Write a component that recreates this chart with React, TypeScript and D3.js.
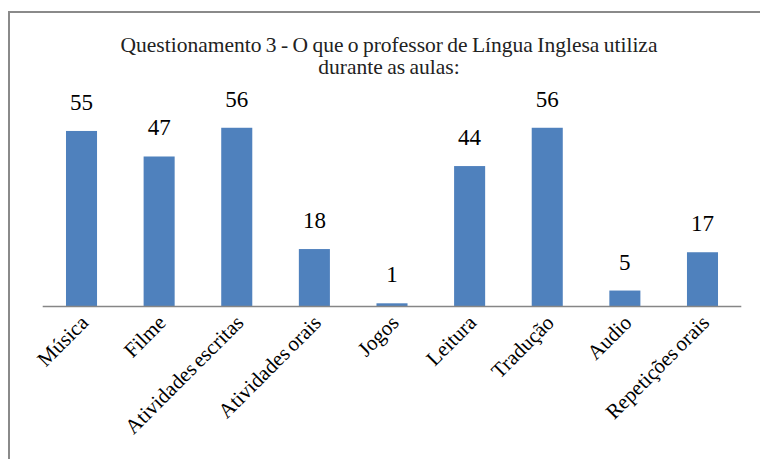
import React, { useEffect, useRef } from "react";
import * as d3 from "d3";

const categories = [
  "Música",
  "Filme",
  "Atividades escritas",
  "Atividades orais",
  "Jogos",
  "Leitura",
  "Tradução",
  "Audio",
  "Repetições orais",
];
const values = [55, 47, 56, 18, 1, 44, 56, 5, 17];
const titleLines = [
  "Questionamento 3 - O que o professor de Língua Inglesa utiliza",
  "durante as aulas:",
];

const App = () => {
  const svgRef = useRef<SVGSVGElement>(null);

  useEffect(() => {
    const width = 760;
    const height = 459;
    const svg = d3.select(svgRef.current);
    svg.selectAll("*").remove();

    const font =
      '"Liberation Serif", Tinos, "Times New Roman", Times, "DejaVu Serif", serif';

    // frame (only top and left edges visible in the crop)
    svg
      .append("rect")
      .attr("x", 9)
      .attr("y", 12)
      .attr("width", 800)
      .attr("height", 500)
      .attr("fill", "#fff")
      .attr("stroke", "#8a8a8a")
      .attr("stroke-width", 2);

    svg
      .append("g")
      .selectAll("text")
      .data(titleLines)
      .enter()
      .append("text")
      .attr("x", 389)
      .attr("y", (d, i) => 52 + i * 22)
      .attr("text-anchor", "middle")
      .style("font-family", font)
      .style("font-size", "21.5px")
      .style("word-spacing", "-1px")
      .attr("fill", "#222")
      .text((d) => d);

    const x = d3
      .scaleBand()
      .domain(categories)
      .range([42.7, 741.3])
      .paddingInner(0.6)
      .paddingOuter(0.3);

    const y = d3.scaleLinear().domain([0, 60]).range([306.5, 115]);

    svg
      .append("g")
      .selectAll("rect")
      .data(values)
      .enter()
      .append("rect")
      .attr("x", (d, i) => x(categories[i]))
      .attr("y", (d) => y(d))
      .attr("width", x.bandwidth())
      .attr("height", (d) => y(0) - y(d))
      .attr("fill", "#4f81bd");

    svg
      .append("line")
      .attr("x1", 42.7)
      .attr("x2", 741.3)
      .attr("y1", 306.5)
      .attr("y2", 306.5)
      .attr("stroke", "#868686")
      .attr("stroke-width", 1.5);

    svg
      .append("g")
      .selectAll("text")
      .data(values)
      .enter()
      .append("text")
      .attr("x", (d, i) => x(categories[i]) + x.bandwidth() / 2)
      .attr("y", (d) => y(d) - 21)
      .attr("text-anchor", "middle")
      .style("font-family", font)
      .style("font-size", "23px")
      .attr("fill", "#000")
      .text((d) => d);

    svg
      .append("g")
      .selectAll("text")
      .data(categories)
      .enter()
      .append("text")
      .attr("transform", (d) => {
        const cx = x(d) + x.bandwidth() / 2 + 8;
        return `translate(${cx},${324}) rotate(-45)`;
      })
      .attr("text-anchor", "end")
      .style("font-family", font)
      .style("font-size", "21px")
      .style("word-spacing", "-2px")
      .attr("fill", "#000")
      .text((d) => d);

    svg.attr("width", width).attr("height", height);
  }, []);

  return (
    <svg
      ref={svgRef}
      style={{ position: "absolute", left: 0, top: 0, background: "#fff" }}
    ></svg>
  );
};

export default App;
